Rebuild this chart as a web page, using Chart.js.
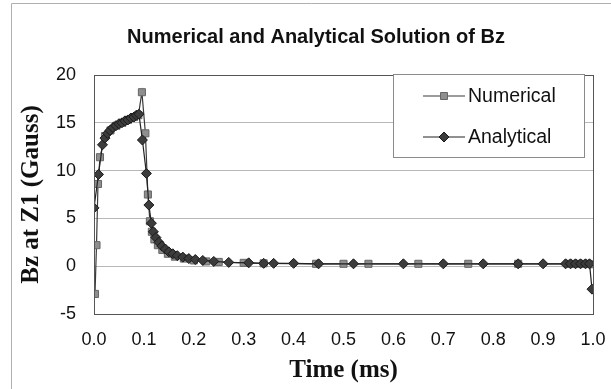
<!DOCTYPE html>
<html>
<head>
<meta charset="utf-8">
<script src="https://cdn.jsdelivr.net/npm/chart.js@4/dist/chart.umd.min.js"></script>
<style>
  body { margin: 0; background: #fff; }
  #wrap { width: 611px; height: 389px; }
</style>
</head>
<body>
<div id="wrap"><canvas id="bzChart" width="611" height="389"></canvas></div>
<script>
// Numerical solution (squares)
const numTime = [0.002, 0.005, 0.008, 0.012, 0.022, 0.033, 0.045, 0.057, 0.068, 0.080, 0.089,
  0.096, 0.103, 0.108, 0.112, 0.116, 0.121, 0.128, 0.137, 0.148, 0.162, 0.180, 0.200, 0.225,
  0.250, 0.300, 0.340, 0.445, 0.500, 0.550, 0.650, 0.750, 0.850, 0.950, 0.960, 0.970, 0.980,
  0.990, 0.998];
const numBz = [-2.9, 2.2, 8.6, 11.4, 13.6, 14.2, 14.7, 15.0, 15.3, 15.6, 15.8,
  18.2, 13.9, 7.5, 4.7, 3.6, 2.8, 2.2, 1.7, 1.3, 1.0, 0.8, 0.6, 0.5,
  0.45, 0.35, 0.3, 0.25, 0.25, 0.25, 0.25, 0.25, 0.25, 0.25, 0.25, 0.25, 0.25,
  0.25, 0.2];

// Analytical solution (diamonds)
const anaTime = [0.000, 0.009, 0.017, 0.022, 0.027, 0.032, 0.038, 0.044, 0.050, 0.056, 0.062,
  0.068, 0.074, 0.080, 0.085, 0.090, 0.097, 0.105, 0.110, 0.115, 0.119, 0.124, 0.130, 0.136,
  0.143, 0.150, 0.158, 0.167, 0.178, 0.190, 0.203, 0.218, 0.240, 0.270, 0.310, 0.340, 0.360,
  0.400, 0.450, 0.520, 0.620, 0.700, 0.780, 0.850, 0.900, 0.945, 0.955, 0.965, 0.975, 0.985,
  0.993, 0.998];
const anaBz = [6.1, 9.6, 12.7, 13.4, 13.9, 14.2, 14.5, 14.7, 14.9, 15.0, 15.2,
  15.3, 15.5, 15.6, 15.8, 15.9, 13.2, 9.7, 6.4, 4.5, 3.6, 3.0, 2.5, 2.1,
  1.8, 1.5, 1.3, 1.1, 0.95, 0.8, 0.7, 0.6, 0.5, 0.4, 0.35, 0.3, 0.3,
  0.3, 0.25, 0.25, 0.25, 0.25, 0.25, 0.25, 0.25, 0.25, 0.25, 0.25, 0.25, 0.25,
  0.25, -2.4];

// tick labels
const xTicks = [0, 0.1, 0.2, 0.3, 0.4, 0.5, 0.6, 0.7, 0.8, 0.9, 1.0];
const yTicks = [-5, 0, 5, 10, 15, 20];

const toPoints = (xs, ys) => xs.map((x, i) => ({ x: x, y: ys[i] }));

// chart title, frame, plot box and legend drawn on the canvas
const decorPlugin = {
  id: "decor",
  beforeDraw(chart) {
    const ctx = chart.ctx;
    ctx.save();
    ctx.strokeStyle = "#b0b0b0";
    ctx.lineWidth = 1;
    ctx.beginPath();
    ctx.moveTo(11.5, 389);
    ctx.lineTo(11.5, 3.5);
    ctx.lineTo(611, 3.5);
    ctx.stroke();
    ctx.fillStyle = "#111";
    ctx.font = "bold 20px 'Liberation Sans', Arial, sans-serif";
    ctx.textAlign = "center";
    ctx.textBaseline = "middle";
    ctx.fillText("Numerical and Analytical Solution of Bz", 316, 37);
    ctx.restore();
  },
  afterDraw(chart) {
    const ctx = chart.ctx;
    const a = chart.chartArea;
    ctx.save();
    ctx.strokeStyle = "#555";
    ctx.lineWidth = 1;
    ctx.strokeRect(Math.round(a.left) + 0.5, Math.round(a.top) + 0.5,
      Math.round(a.right - a.left), Math.round(a.bottom - a.top));

    // legend
    const lx = 393, ly = 74, lw = 191, lh = 83;
    ctx.fillStyle = "#fff";
    ctx.fillRect(lx, ly, lw, lh);
    ctx.strokeStyle = "#8a8a8a";
    ctx.strokeRect(lx + 0.5, ly + 0.5, lw, lh);
    const rows = [chart.data.datasets[0], chart.data.datasets[1]];
    rows.forEach((ds, i) => {
      const y = 96 + i * 41;
      ctx.strokeStyle = ds.borderColor;
      ctx.lineWidth = 1.2;
      ctx.beginPath();
      ctx.moveTo(423, y);
      ctx.lineTo(465, y);
      ctx.stroke();
      ctx.fillStyle = ds.pointBackgroundColor;
      ctx.strokeStyle = ds.pointBorderColor;
      ctx.lineWidth = 1;
      ctx.beginPath();
      if (ds.pointStyle === "rect") {
        ctx.rect(440.5, y - 3.5, 7, 7);
      } else {
        ctx.moveTo(444, y - 5);
        ctx.lineTo(449, y);
        ctx.lineTo(444, y + 5);
        ctx.lineTo(439, y);
        ctx.closePath();
      }
      ctx.fill();
      ctx.stroke();
      ctx.fillStyle = "#111";
      ctx.font = "19.5px 'Liberation Sans', Arial, sans-serif";
      ctx.textAlign = "left";
      ctx.textBaseline = "middle";
      ctx.fillText(ds.label, 468, y + 1);
    });
    ctx.restore();
  },
};

new Chart(document.getElementById("bzChart"), {
  type: "scatter",
  data: {
    datasets: [
      {
        label: "Numerical",
        data: toPoints(numTime, numBz),
        showLine: true,
        borderColor: "#3a3a3a",
        borderWidth: 1.2,
        pointStyle: "rect",
        pointRadius: 5,
        pointBackgroundColor: "#8e8e8e",
        pointBorderColor: "#666",
        pointBorderWidth: 1,
        order: 1,
      },
      {
        label: "Analytical",
        data: toPoints(anaTime, anaBz),
        showLine: true,
        borderColor: "#222",
        borderWidth: 1.2,
        pointStyle: "rectRot",
        pointRadius: 5,
        pointBackgroundColor: "#3c3c3c",
        pointBorderColor: "#1a1a1a",
        pointBorderWidth: 1,
        order: 0,
      },
    ],
  },
  options: {
    responsive: false,
    animation: false,
    layout: { padding: { left: 0, right: 18, top: 75, bottom: 0 } },
    plugins: {
      legend: { display: false },
      title: { display: false },
      tooltip: { enabled: false },
    },
    scales: {
      x: {
        type: "linear",
        min: 0,
        max: 1,
        afterBuildTicks: (scale) => {
          scale.ticks = xTicks.map((v) => ({ value: v }));
        },
        afterFit: (scale) => {
          scale.height = 75;
          scale.paddingLeft = 0;
          scale.paddingRight = 0;
        },
        grid: { display: false, drawTicks: false },
        border: { display: false },
        ticks: {
          padding: 15,
          color: "#111",
          font: { family: "'Liberation Sans', Arial, sans-serif", size: 18 },
          callback: (v) => v.toFixed(1),
          maxRotation: 0,
        },
        title: {
          display: true,
          text: "Time (ms)",
          color: "#111",
          padding: { top: 3, bottom: 3 },
          font: { family: "'Liberation Serif', 'Times New Roman', serif", size: 25, weight: "bold" },
        },
      },
      y: {
        type: "linear",
        min: -5,
        max: 20,
        afterBuildTicks: (scale) => {
          scale.ticks = yTicks.map((v) => ({ value: v }));
        },
        afterFit: (scale) => {
          scale.width = 94;
        },
        grid: { color: "#b8b8b8", lineWidth: 1, drawTicks: false },
        border: { display: false },
        ticks: {
          padding: 18,
          color: "#111",
          font: { family: "'Liberation Sans', Arial, sans-serif", size: 18 },
        },
        title: {
          display: true,
          text: "Bz at Z1 (Gauss)",
          color: "#111",
          padding: { top: 17, bottom: 17 },
          font: { family: "'Liberation Serif', 'Times New Roman', serif", size: 25, weight: "bold" },
        },
      },
    },
  },
  plugins: [decorPlugin],
});
</script>
</body>
</html>
